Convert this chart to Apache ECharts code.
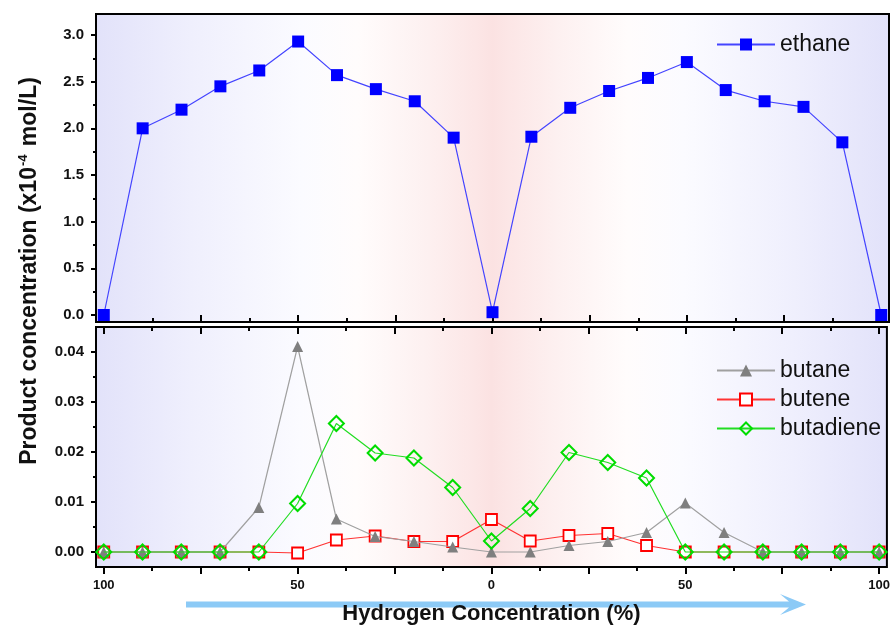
<!DOCTYPE html>
<html>
<head>
<meta charset="utf-8">
<script src="https://cdn.jsdelivr.net/npm/echarts@6/dist/echarts.min.js"></script>
<style>
  html, body { margin: 0; padding: 0; background: #fff; }
  #chart { width: 893px; height: 626px; }
</style>
</head>
<body>
<div id="chart"></div>
<script>
// Position along the sweep: 100% H2 -> 0% -> 100% H2 (step of 10 %)
const sweepPos = [0, 10, 20, 30, 40, 50, 60, 70, 80, 90, 100,
                  110, 120, 130, 140, 150, 160, 170, 180, 190, 200];

// Product concentrations (x10^-4 mol/L)
const ethane    = [0.00, 2.00, 2.20, 2.45, 2.62, 2.93, 2.57, 2.42, 2.29, 1.90, 0.03,
                   1.91, 2.22, 2.40, 2.54, 2.71, 2.41, 2.29, 2.23, 1.85, 0.00];
const butane    = [0, 0, 0, 0, 0.0089, 0.0411, 0.0066, 0.0031, 0.0021, 0.0010, 0.0000,
                   0.0000, 0.0013, 0.0021, 0.0039, 0.0098, 0.0039, 0, 0, 0, 0];
const butene    = [0, 0, 0, 0, 0, -0.0002, 0.0024, 0.0032, 0.0021, 0.0021, 0.0065,
                   0.0022, 0.0033, 0.0037, 0.0013, 0, 0, 0, 0, 0, 0];
const butadiene = [0, 0, 0, 0, 0, 0.0097, 0.0257, 0.0198, 0.0188, 0.0129, 0.0022,
                   0.0087, 0.0199, 0.0179, 0.0148, 0, 0, 0, 0, 0, 0];

// Axis ticks and labels
const xMajorTicks = [0, 25, 50, 75, 100, 125, 150, 175, 200];
const xMinorTicks = [12.5, 37.5, 62.5, 87.5, 112.5, 137.5, 162.5, 187.5];
const xLabelPos   = [0, 50, 100, 150, 200];
const xLabelText  = ['100', '50', '0', '50', '100'];
const yTopTicks   = [0, 0.5, 1.0, 1.5, 2.0, 2.5, 3.0];
const yTopMinor   = [0.25, 0.75, 1.25, 1.75, 2.25, 2.75];
const yBotTicks   = [0, 0.01, 0.02, 0.03, 0.04];
const yBotMinor   = [0.005, 0.015, 0.025, 0.035];

const FONT = "'Liberation Sans', Arial, Helvetica, sans-serif";
const pair = (vals) => sweepPos.map((x, i) => [x, vals[i]]);

const bgGradient = new echarts.graphic.LinearGradient(0, 0, 1, 0, [
  { offset: 0.00, color: '#e2e2fa' },
  { offset: 0.12, color: '#efeffd' },
  { offset: 0.26, color: '#fbfbff' },
  { offset: 0.33, color: '#fffcfc' },
  { offset: 0.42, color: '#fdf0f0' },
  { offset: 0.48, color: '#fce6e6' },
  { offset: 0.50, color: '#fbe2e2' },
  { offset: 0.52, color: '#fce6e6' },
  { offset: 0.58, color: '#fdf0f0' },
  { offset: 0.67, color: '#fffcfc' },
  { offset: 0.74, color: '#fbfbff' },
  { offset: 0.88, color: '#efeffd' },
  { offset: 1.00, color: '#e2e2fa' }
]);

function tickAxis(gridIndex, position, values, len, inside, withLabels) {
  return {
    type: 'value', gridIndex, position, min: -2, max: 202,
    axisLine: { show: false, onZero: false },
    splitLine: { show: false },
    axisTick: { show: true, inside, length: len, customValues: values,
                lineStyle: { color: '#000', width: 2 } },
    axisLabel: withLabels ? {
      show: true, margin: 12, customValues: xLabelPos,
      formatter: (v) => xLabelText[xLabelPos.indexOf(Math.round(v))],
      fontFamily: FONT, fontWeight: 'bold', fontSize: 13, color: '#111'
    } : { show: false }
  };
}

function yTickAxis(gridIndex, min, max, values, len, labelDigits) {
  return {
    type: 'value', gridIndex, position: 'left', min, max,
    axisLine: { show: false, onZero: false },
    splitLine: { show: false },
    axisTick: { show: true, inside: false, length: len, customValues: values,
                lineStyle: { color: '#000', width: 2 } },
    axisLabel: labelDigits != null ? {
      show: true, margin: 12, customValues: values,
      formatter: (v) => v.toFixed(labelDigits),
      fontFamily: FONT, fontWeight: 'bold', fontSize: 15, color: '#111'
    } : { show: false }
  };
}

const chart = echarts.init(document.getElementById('chart'), null, { renderer: 'canvas' });

chart.setOption({
  animation: false,
  backgroundColor: '#fff',
  grid: [
    { left: 96, right: 4, top: 14, height: 308, show: true,
      backgroundColor: bgGradient, borderColor: '#000', borderWidth: 2 },
    { left: 96, right: 4, top: 327, height: 250, show: true,
      backgroundColor: bgGradient, borderColor: '#000', borderWidth: 2 }
  ],
  xAxis: [
    tickAxis(0, 'bottom', xMajorTicks, 7, true, false),
    tickAxis(0, 'bottom', xMinorTicks, 4, true, false),
    tickAxis(1, 'top', xMajorTicks, 7, true, false),
    tickAxis(1, 'top', xMinorTicks, 4, true, false),
    Object.assign(tickAxis(1, 'bottom', xMajorTicks, 7, false, true), {
      name: 'Hydrogen Concentration (%)',
      nameLocation: 'middle', nameGap: 36,
      nameTextStyle: { fontFamily: FONT, fontWeight: 'bold', fontSize: 22, color: '#111' }
    }),
    tickAxis(1, 'bottom', xMinorTicks, 4, false, false)
  ],
  yAxis: [
    yTickAxis(0, -0.075, 3.225, yTopTicks, 5, 1),
    yTickAxis(0, -0.075, 3.225, yTopMinor, 3, null),
    yTickAxis(1, -0.003, 0.045, yBotTicks, 5, 2),
    yTickAxis(1, -0.003, 0.045, yBotMinor, 3, null)
  ],
  legend: [
    {
      data: ['ethane'], left: 711, top: 28, itemWidth: 58, itemHeight: 15,
      textStyle: { fontFamily: FONT, fontSize: 23, color: '#111' }
    },
    {
      data: ['butane', 'butene', 'butadiene'], orient: 'vertical',
      left: 711, top: 354, itemGap: 6, itemWidth: 58, itemHeight: 15,
      textStyle: { fontFamily: FONT, fontSize: 23, color: '#111' }
    }
  ],
  graphic: [
    {
      type: 'polygon', z: -5, silent: true,
      shape: { points: [[186, 601.5], [789, 601.5], [780, 594], [806, 604.5],
                        [780, 615], [789, 607.5], [186, 607.5]] },
      style: { fill: '#8ccaf6' }
    },
    {
      type: 'text', x: 30, y: 271, rotation: Math.PI / 2, silent: true,
      style: {
        text: '{a|Product concentration (x10}{s|-4}{a| mol/L)}',
        align: 'center', verticalAlign: 'middle',
        rich: {
          a: { fontFamily: FONT, fontWeight: 'bold', fontSize: 23, fill: '#111', lineHeight: 26 },
          s: { fontFamily: FONT, fontWeight: 'bold', fontSize: 13, fill: '#111',
               verticalAlign: 'top', lineHeight: 26, padding: [0, 2, 0, 1] }
        }
      }
    }
  ],
  series: [
    {
      name: 'ethane', type: 'line', xAxisIndex: 0, yAxisIndex: 0,
      data: pair(ethane), symbol: 'rect', symbolSize: 12,
      itemStyle: { color: '#0000ff' },
      lineStyle: { color: '#4444ff', width: 1.2 }, z: 3
    },
    {
      name: 'butene', type: 'line', xAxisIndex: 4, yAxisIndex: 2,
      data: pair(butene), symbol: 'rect', symbolSize: 11,
      itemStyle: { color: '#ffffff', borderColor: '#ff0000', borderWidth: 1.8 },
      lineStyle: { color: '#ff3333', width: 1.2 }, z: 2
    },
    {
      name: 'butane', type: 'line', xAxisIndex: 4, yAxisIndex: 2,
      data: pair(butane), symbol: 'triangle', symbolSize: 11,
      itemStyle: { color: '#7f7f7f' },
      lineStyle: { color: '#a0a0a0', width: 1.2 }, z: 3
    },
    {
      name: 'butadiene', type: 'line', xAxisIndex: 4, yAxisIndex: 2,
      data: pair(butadiene), symbol: 'diamond', symbolSize: 15,
      itemStyle: { color: 'rgba(255,255,255,0)', borderColor: '#00dd00', borderWidth: 2 },
      lineStyle: { color: '#22dd22', width: 1.2 }, z: 4
    }
  ]
});
</script>
</body>
</html>
